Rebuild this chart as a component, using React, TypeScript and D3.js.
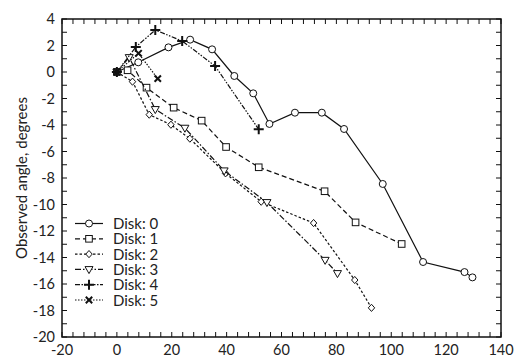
import * as d3 from "d3";

type Pt = [number, number];

// values
const disk0: Pt[] = [
  [0, 0], [7.8, 0.73], [18.8, 1.86], [26.7, 2.44], [34.7, 1.71], [42.8, -0.3],
  [49.7, -1.61], [55.6, -3.92], [64.9, -3.07], [74.7, -3.07], [82.8, -4.3],
  [96.9, -8.45], [111.6, -14.34], [126.7, -15.1], [129.6, -15.5],
];
const disk1: Pt[] = [
  [0, 0], [3.9, 0.13], [10.8, -1.18], [20.7, -2.69], [30.9, -3.67], [39.8, -5.66],
  [51.7, -7.19], [75.7, -9.0], [87.0, -11.35], [103.8, -12.98],
];
const disk2: Pt[] = [
  [0, 0], [5.7, -0.73], [11.8, -3.22], [19.7, -3.98], [26.6, -5.03], [39.6, -7.65],
  [52.6, -9.79], [71.7, -11.4], [86.7, -15.7], [92.8, -17.8],
];
const disk3: Pt[] = [
  [0, 0], [4.5, 1.1], [14.0, -2.82], [24.8, -4.23], [39.1, -7.45], [54.7, -9.84],
  [75.9, -14.2], [80.4, -15.2],
];
const disk4: Pt[] = [
  [0, 0], [6.9, 1.89], [14.0, 3.17], [23.8, 2.34], [35.8, 0.45], [51.7, -4.33],
];
const disk5: Pt[] = [[0, 0], [7.9, 1.41], [14.9, -0.5]];

const names = ["Disk: 0", "Disk: 1", "Disk: 2", "Disk: 3", "Disk: 4", "Disk: 5"];
const xTickLabels = [-20, 0, 20, 40, 60, 80, 100, 120, 140];
const yTickLabels = [4, 2, 0, -2, -4, -6, -8, -10, -12, -14, -16, -18, -20];

const series = [disk0, disk1, disk2, disk3, disk4, disk5];
const dashes = ["", "5 3", "2.5 2", "6 2 1.5 2", "5 1.5 1.5 1.5 1.5 1.5", "1.5 1.5"];

const W = 521;
const H = 358;
const m = { left: 62, right: 20, top: 19, bottom: 21 };
const font = "Lato, 'Open Sans', sans-serif";

const x = d3.scaleLinear().domain([-20, 140]).range([m.left, W - m.right]);
const y = d3.scaleLinear().domain([-20, 4]).range([H - m.bottom, m.top]);

function Marker({ i, cx, cy }: { i: number; cx: number; cy: number }) {
  const t = `translate(${cx},${cy})`;
  if (i === 0) return <circle cx={cx} cy={cy} r={3.5} fill="#fff" stroke="#111" strokeWidth={1} />;
  if (i === 1) return <rect x={cx - 3.3} y={cy - 3.3} width={6.6} height={6.6} fill="#fff" stroke="#111" strokeWidth={1} />;
  if (i === 2) return <path transform={t} d="M0,-3.6L3.2,0L0,3.6L-3.2,0Z" fill="#fff" stroke="#111" strokeWidth={1} />;
  if (i === 3) return <path transform={t} d="M-4,-2.8L4,-2.8L0,4.2Z" fill="#fff" stroke="#111" strokeWidth={1} />;
  if (i === 4) return <path transform={t} d="M-5,0L5,0M0,-5L0,5" stroke="#111" strokeWidth={2} />;
  return <path transform={t} d="M-3.2,-3.2L3.2,3.2M-3.2,3.2L3.2,-3.2" stroke="#111" strokeWidth={2} />;
}

export default function App() {
  const line = d3.line<Pt>().x((d) => x(d[0])).y((d) => y(d[1]));
  const xMinor = d3.range(-20, 140.01, 4);
  const yMinor = d3.range(-20, 4.01, 1);
  const x0 = m.left;
  const x1 = W - m.right;
  const y0 = m.top;
  const y1 = H - m.bottom;
  const tk = 5;

  return (
    <svg width={W} height={H} style={{ position: "absolute", left: 0, top: 0, background: "#fff" }} fontFamily={font}>
      {/* ticks, inward on every side */}
      {xMinor.map((v) => (
        <g key={`xt${v}`} stroke="#111" strokeWidth={1}>
          <line x1={x(v)} x2={x(v)} y1={y1} y2={y1 - tk} />
          <line x1={x(v)} x2={x(v)} y1={y0} y2={y0 + tk} />
        </g>
      ))}
      {yMinor.map((v) => (
        <g key={`yt${v}`} stroke="#111" strokeWidth={1}>
          <line x1={x0} x2={x0 + tk} y1={y(v)} y2={y(v)} />
          <line x1={x1} x2={x1 - tk} y1={y(v)} y2={y(v)} />
        </g>
      ))}
      <rect x={x0} y={y0} width={x1 - x0} height={y1 - y0} fill="none" stroke="#111" strokeWidth={1.5} />

      {xTickLabels.map((v) => (
        <text key={`xl${v}`} x={x(v)} y={y1 + 18} textAnchor="middle" fontSize={14.5} fill="#222">
          {v}
        </text>
      ))}
      {yTickLabels.map((v) => (
        <text key={`yl${v}`} x={x0 - 7} y={y(v) + 5} textAnchor="end" fontSize={14.5} fill="#222">
          {v}
        </text>
      ))}
      <text
        transform={`translate(27,${(y0 + y1) / 2}) rotate(-90)`}
        textAnchor="middle"
        fontSize={15}
        fill="#222"
      >
        Observed angle, degrees
      </text>

      {/* series */}
      {series.map((s, i) => (
        <g key={`s${i}`}>
          <path d={line(s) ?? ""} fill="none" stroke="#111" strokeWidth={1.2} strokeDasharray={dashes[i]} />
          {s.map((d, j) => (
            <Marker key={j} i={i} cx={x(d[0])} cy={y(d[1])} />
          ))}
        </g>
      ))}

      {/* legend */}
      {names.map((n, i) => {
        const ly = 223.5 + i * 15.3;
        return (
          <g key={`lg${i}`}>
            <line x1={75} x2={103} y1={ly} y2={ly} stroke="#111" strokeWidth={1.2} strokeDasharray={dashes[i]} />
            <Marker i={i} cx={89} cy={ly} />
            <text x={113} y={ly + 5.5} fontSize={15} fill="#222">
              {n}
            </text>
          </g>
        );
      })}
    </svg>
  );
}
